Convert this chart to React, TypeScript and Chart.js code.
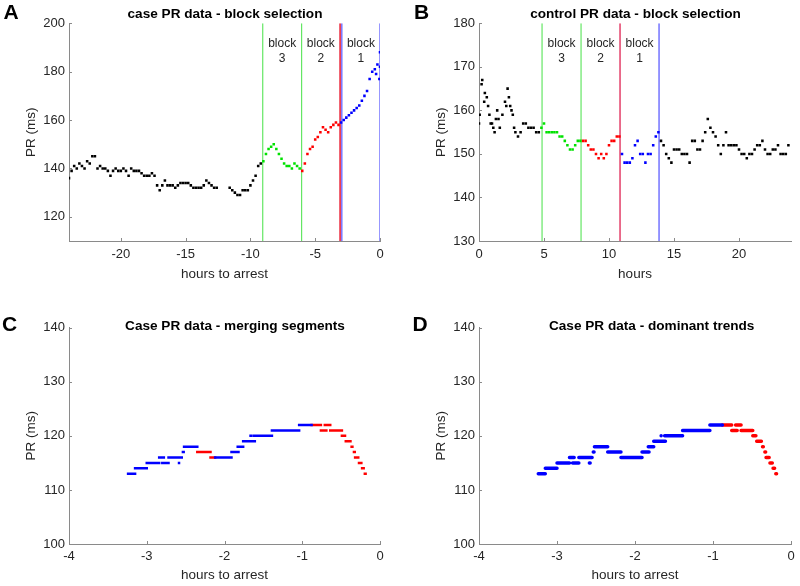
import React, { useEffect, useRef } from 'react';
import { Chart, registerables } from 'chart.js';

Chart.register(...registerables);

const FONT = '"Liberation Sans", Arial, Helvetica, sans-serif';
const SAMPLE_STEP_H = 0.2;

// ---------- Panel A: case PR data ----------
const A_BLACK_START_H = -24;
const A_BLACK_PR: (number | null)[] = [
  136, 139, 141, 140, 142, 141, 140, 143, 142, 145, 145,
  140, 141, 140, 140, 139, 137, 139, 140, 139, 139,
  140, 139, 137, 140, 139, 139, 139, 138, 137, 137,
  137, 138, 137, 133, 131, 133, 135, 133, 133, 133,
  132, 133, 134, 134, 134, 134, 133, 132, 132, 132,
  132, 133, 135, 134, 133, 132, 132, null, null, null,
  null, 132, 131, 130, 129, 129, 131, 131, 131, 133,
  135, 137, 141, 142,
];
const A_GREEN_START_H = -9;
const A_GREEN_PR = [143, 146, 148, 149, 150, 148, 146, 144, 142, 141, 141, 140, 142, 141, 140];
const A_RED_START_H = -6;
const A_RED_PR = [139, 142, 146, 148, 149, 152, 153, 155, 157, 156, 155, 157, 158, 159, 158];
const A_BLUE_START_H = -3;
const A_BLUE_PR = [159, 160, 161, 162, 163, 164, 165, 166, 168, 170, 172, 177, 180, 181, 183, 188];
const A_BLUE_EXTRA_H = [-0.3, -0.05, 0];
const A_BLUE_EXTRA_PR = [179, 177, 182];
const A_BLOCK_NAMES = ['3', '2', '1'];
const A_BLOCK_START = [-9.05, -6.05, -2.95];
const A_BLOCK_END = [-6.05, -3.08, 0];
const A_LINE_H = [-9.05, -6.05, -3.08, -2.95, 0];
const A_LINE_KIND = ['g', 'g', 'r', 'b', 'b'];
const A_X_TICKS = [-20, -15, -10, -5, 0];
const A_Y_TICKS = [120, 140, 160, 180, 200];

// ---------- Panel B: control PR data ----------
const B_BLACK1_START_H = 0;
const B_BLACK1_PR = [157, 166, 162, 163, 159, 157, 155, 160, 156, 159, 162, 165, 161, 159, 155, 154, 155, 157, 157, 156, 156, 156, 155, 155];
const B_BLACK1_EXTRA_H = [0.05, 0.25, 0.45, 0.7, 0.9, 1.1, 1.3, 1.5, 2.1, 2.3, 2.5, 2.7];
const B_BLACK1_EXTRA_PR = [159, 167, 164, 161, 157, 156, 158, 158, 161, 163, 160, 156];
const B_GREEN_START_H = 4.8;
const B_GREEN_PR = [156, 157, 155, 155, 155, 155, 155, 154, 154, 153, 152, 151, 151, 152, 153, 153];
const B_RED_START_H = 8.0;
const B_RED_PR = [153, 153, 152, 151, 151, 150, 149, 150, 149, 150, 152, 153, 153, 154, 154];
const B_BLUE_START_H = 11.0;
const B_BLUE_PR = [150, 148, 148, 148, 149, 152, 153, 150, 150, 148, 150, 150, 152, 154, 155];
const B_BLACK2_START_H = 14.0;
const B_BLACK2_PR = [
  153, 152, 150, 149, 148, 151, 151, 151, 150, 150,
  150, 148, 153, 153, 151, 151, 153, 155, 158, 156,
  155, 154, 152, 150, 152, 155, 152, 152, 152, 152,
  151, 150, 150, 149, 150, 150, 151, 152, 152, 153,
  151, 150, 150, 151, 151, 152, 150, 150, 150, 152,
];
const B_BLOCK_NAMES = ['3', '2', '1'];
const B_BLOCK_START = [4.85, 7.85, 10.85];
const B_BLOCK_END = [7.85, 10.85, 13.85];
const B_LINE_H = [4.85, 7.85, 10.85, 13.85];
const B_LINE_KIND = ['g', 'g', 'p', 'b'];
const B_X_TICKS = [0, 5, 10, 15, 20];
const B_Y_TICKS = [130, 140, 150, 160, 170, 180];

// ---------- Panels C & D: case PR trend segments ----------
const SEG_START_H = [-3.24, -3.15, -3.0, -2.84, -2.80, -2.72, -2.585, -2.535, -2.52, -2.35, -2.18, -2.12, -1.91, -1.83, -1.76, -1.665, -1.62, -1.39, -1.04, -0.88, -0.76, -0.71, -0.64, -0.49, -0.44, -0.365, -0.335, -0.32, -0.27, -0.23, -0.195];
const SEG_END_H = [-3.15, -3.0, -2.84, -2.78, -2.72, -2.55, -2.575, -2.525, -2.35, -2.18, -2.12, -1.91, -1.82, -1.76, -1.61, -1.655, -1.39, -1.04, -0.88, -0.76, -0.69, -0.64, -0.49, -0.45, -0.38, -0.355, -0.325, -0.28, -0.24, -0.21, -0.185];
const SEG_PR = [113, 114, 115, 116, 115, 116, 115, 117, 118, 117, 116, 116, 117, 118, 119, 120, 120, 121, 122, 122, 121, 122, 121, 120, 119, 118, 117, 116, 115, 114, 113];
// 'u' = blue, 'd' = red
const MERGE_CLASS = ['u','u','u','u','u','u','u','u','u','d','d','u','u','u','u','u','u','u','u','d','d','d','d','d','d','d','d','d','d','d','d'];
const TREND_CLASS = ['u','u','u','u','u','u','u','u','u','u','u','u','u','u','u','u','u','u','u','d','d','d','d','d','d','d','d','d','d','d','d'];
const CD_X_TICKS = [-4, -3, -2, -1, 0];
const CD_Y_TICKS = [100, 110, 120, 130, 140];

// ---------- styles ----------
const AXIS_COLOR = '#8a8a8a';
const TEXT_COLOR = '#262626';
const DOT_BLACK = '#000000';
const DOT_GREEN = 'rgb(0,225,0)';
const DOT_RED = 'rgb(255,0,0)';
const DOT_BLUE = 'rgb(0,0,255)';
const LINE_STYLE: Record<string, { color: string; width: number }> = {
  g: { color: 'rgb(100,230,100)', width: 1.2 },
  r: { color: 'rgb(235,40,60)', width: 1.6 },
  p: { color: 'rgb(232,95,130)', width: 1.8 },
  b: { color: 'rgb(125,125,255)', width: 1.6 },
};

function toPoints(startH: number, values: (number | null)[]) {
  return values.map((v, i) => ({ x: Math.round((startH + i * SAMPLE_STEP_H) * 100) / 100, y: v }));
}

function pairPoints(xs: number[], ys: number[]) {
  return xs.map((x, i) => ({ x, y: ys[i] }));
}

function dots(data: any[], color: string) {
  return {
    data,
    backgroundColor: color,
    borderColor: color,
    borderWidth: 0,
    pointStyle: 'rect',
    pointRadius: 1.8,
    pointBorderWidth: 0,
    showLine: false,
    order: 0,
  };
}

function vLines(xs: number[], kinds: string[], yMin: number, yMax: number) {
  return xs.map((x, i) => ({
    data: [{ x, y: yMin }, { x, y: yMax }],
    showLine: true,
    borderColor: LINE_STYLE[kinds[i]].color,
    borderWidth: LINE_STYLE[kinds[i]].width,
    pointRadius: 0,
    order: 1,
  }));
}

function segmentLine(cls: string[], want: string, color: string, width: number, cap: string) {
  const data: any[] = [];
  SEG_PR.forEach((v, i) => {
    if (cls[i] !== want) return;
    data.push({ x: SEG_START_H[i], y: v }, { x: SEG_END_H[i], y: v }, { x: SEG_END_H[i], y: null });
  });
  return {
    data,
    showLine: true,
    spanGaps: false,
    borderColor: color,
    borderWidth: width,
    borderCapStyle: cap,
    pointRadius: 0,
  };
}

interface TextSpec {
  letter: string; letterX: number; letterY: number;
  title: string; titleX: number; titleY: number;
  xTicks: number[]; yTicks: number[];
  blocks?: { names: string[]; start: number[]; end: number[] };
}

function textPlugin(spec: TextSpec) {
  return {
    id: 'panelText',
    afterDraw(chart: any) {
      const ctx = chart.ctx;
      const xs = chart.scales.x;
      const ys = chart.scales.y;
      const area = chart.chartArea;
      ctx.save();
      ctx.strokeStyle = AXIS_COLOR;
      ctx.lineWidth = 1;
      ctx.beginPath();
      spec.xTicks.forEach((t) => {
        const px = Math.round(xs.getPixelForValue(t)) + 0.5;
        ctx.moveTo(px, area.bottom);
        ctx.lineTo(px, area.bottom - 3);
      });
      spec.yTicks.forEach((t) => {
        const py = Math.round(ys.getPixelForValue(t)) + 0.5;
        ctx.moveTo(area.left, py);
        ctx.lineTo(area.left + 3, py);
      });
      ctx.stroke();
      ctx.textAlign = 'center';
      ctx.textBaseline = 'middle';
      ctx.fillStyle = '#000';
      ctx.font = `bold 21px ${FONT}`;
      ctx.fillText(spec.letter, spec.letterX, spec.letterY);
      ctx.font = `bold 13.6px ${FONT}`;
      ctx.fillText(spec.title, spec.titleX, spec.titleY);
      if (spec.blocks) {
        ctx.fillStyle = TEXT_COLOR;
        ctx.font = `12px ${FONT}`;
        spec.blocks.names.forEach((n, i) => {
          const cx = xs.getPixelForValue((spec.blocks!.start[i] + spec.blocks!.end[i]) / 2);
          ctx.fillText('block', cx, area.top + 20);
          ctx.fillText(n, cx, area.top + 35);
        });
      }
      ctx.restore();
    },
  };
}

interface AxisSpec {
  xMin: number; xMax: number; xTicks: number[]; xTitle: string;
  yMin: number; yMax: number; yTicks: number[];
  yWidth: number; xHeight: number; xTickPad: number; xTitlePad: number; yTitlePad: number;
  padRight: number; padTop: number;
}

function makeOptions(a: AxisSpec) {
  const tickFont = { family: FONT, size: 13 };
  const titleFont = { family: FONT, size: 13.5 };
  return {
    responsive: false,
    animation: false,
    devicePixelRatio: 1,
    layout: { padding: { left: 0, right: a.padRight, top: a.padTop, bottom: 0 } },
    plugins: { legend: { display: false }, tooltip: { enabled: false }, title: { display: false } },
    scales: {
      x: {
        type: 'linear',
        min: a.xMin,
        max: a.xMax,
        afterBuildTicks: (s: any) => { s.ticks = a.xTicks.map((v) => ({ value: v })); },
        afterFit: (s: any) => { s.height = a.xHeight; },
        grid: { display: false, drawTicks: false },
        border: { display: true, color: AXIS_COLOR, width: 1 },
        ticks: { color: TEXT_COLOR, font: tickFont, padding: a.xTickPad, maxRotation: 0, autoSkip: false, callback: (v: any) => String(v) },
        title: { display: true, text: a.xTitle, color: TEXT_COLOR, font: titleFont, padding: { top: 0, bottom: a.xTitlePad } },
      },
      y: {
        type: 'linear',
        min: a.yMin,
        max: a.yMax,
        afterBuildTicks: (s: any) => { s.ticks = a.yTicks.map((v) => ({ value: v })); },
        afterFit: (s: any) => { s.width = a.yWidth; },
        grid: { display: false, drawTicks: false },
        border: { display: true, color: AXIS_COLOR, width: 1 },
        ticks: { color: TEXT_COLOR, font: tickFont, padding: 4, autoSkip: false, callback: (v: any) => String(v) },
        title: { display: true, text: 'PR (ms)', color: TEXT_COLOR, font: titleFont, padding: { top: a.yTitlePad, bottom: 0 } },
      },
    },
  };
}

function buildA() {
  const yMin = 110, yMax = 200;
  return {
    type: 'scatter',
    data: {
      datasets: [
        dots(toPoints(A_BLACK_START_H, A_BLACK_PR), DOT_BLACK),
        dots(toPoints(A_GREEN_START_H, A_GREEN_PR), DOT_GREEN),
        dots(toPoints(A_RED_START_H, A_RED_PR), DOT_RED),
        dots(toPoints(A_BLUE_START_H, A_BLUE_PR), DOT_BLUE),
        dots(pairPoints(A_BLUE_EXTRA_H, A_BLUE_EXTRA_PR), DOT_BLUE),
        ...vLines(A_LINE_H, A_LINE_KIND, yMin, yMax),
      ],
    },
    options: makeOptions({
      xMin: -24, xMax: 0, xTicks: A_X_TICKS, xTitle: 'hours to arrest',
      yMin, yMax, yTicks: A_Y_TICKS,
      yWidth: 69, xHeight: 49, xTickPad: 6, xTitlePad: 8, yTitlePad: 23,
      padRight: 20, padTop: 23.3,
    }),
    plugins: [textPlugin({
      letter: 'A', letterX: 11, letterY: 13,
      title: 'case PR data - block selection', titleX: 225, titleY: 14,
      xTicks: A_X_TICKS, yTicks: A_Y_TICKS,
      blocks: { names: A_BLOCK_NAMES, start: A_BLOCK_START, end: A_BLOCK_END },
    })],
  };
}

function buildB() {
  const yMin = 130, yMax = 180;
  return {
    type: 'scatter',
    data: {
      datasets: [
        dots(toPoints(B_BLACK1_START_H, B_BLACK1_PR), DOT_BLACK),
        dots(pairPoints(B_BLACK1_EXTRA_H, B_BLACK1_EXTRA_PR), DOT_BLACK),
        dots(toPoints(B_GREEN_START_H, B_GREEN_PR), DOT_GREEN),
        dots(toPoints(B_RED_START_H, B_RED_PR), DOT_RED),
        dots(toPoints(B_BLUE_START_H, B_BLUE_PR), DOT_BLUE),
        dots(toPoints(B_BLACK2_START_H, B_BLACK2_PR), DOT_BLACK),
        ...vLines(B_LINE_H, B_LINE_KIND, yMin, yMax),
      ],
    },
    options: makeOptions({
      xMin: 0, xMax: 24, xTicks: B_X_TICKS, xTitle: 'hours',
      yMin, yMax, yTicks: B_Y_TICKS,
      yWidth: 79, xHeight: 49, xTickPad: 6, xTitlePad: 8, yTitlePad: 33,
      padRight: 9, padTop: 23.3,
    }),
    plugins: [textPlugin({
      letter: 'B', letterX: 21.5, letterY: 13,
      title: 'control PR data - block selection', titleX: 235.5, titleY: 14,
      xTicks: B_X_TICKS, yTicks: B_Y_TICKS,
      blocks: { names: B_BLOCK_NAMES, start: B_BLOCK_START, end: B_BLOCK_END },
    })],
  };
}

function buildCD(cls: string[], letter: string, title: string, yWidth: number, padRight: number, yTitlePad: number, letterX: number, titleX: number, width: number, cap: string) {
  return {
    type: 'scatter',
    data: {
      datasets: [
        segmentLine(cls, 'u', DOT_BLUE, width, cap),
        segmentLine(cls, 'd', DOT_RED, width, cap),
      ],
    },
    options: makeOptions({
      xMin: -4, xMax: 0, xTicks: CD_X_TICKS, xTitle: 'hours to arrest',
      yMin: 100, yMax: 140, yTicks: CD_Y_TICKS,
      yWidth, xHeight: 42, xTickPad: 5, xTitlePad: 3, yTitlePad,
      padRight, padTop: 37.7,
    }),
    plugins: [textPlugin({
      letter, letterX, letterY: 35,
      title, titleX, titleY: 36,
      xTicks: CD_X_TICKS, yTicks: CD_Y_TICKS,
    })],
  };
}

function Panel({ left, top, width, height, build }: { left: number; top: number; width: number; height: number; build: () => any }) {
  const ref = useRef<HTMLCanvasElement>(null);
  useEffect(() => {
    const chart = new Chart(ref.current as HTMLCanvasElement, build());
    return () => chart.destroy();
  }, []);
  return (
    <canvas
      ref={ref}
      width={width}
      height={height}
      style={{ position: 'absolute', left, top, width, height }}
    />
  );
}

export default function App() {
  return (
    <div style={{ position: 'fixed', left: 0, top: 0, width: 800, height: 586, background: '#ffffff', overflow: 'hidden' }}>
      <Panel left={0} top={0} width={400} height={290} build={buildA} />
      <Panel left={400} top={0} width={400} height={290} build={buildB} />
      <Panel left={0} top={290} width={400} height={296}
        build={() => buildCD(MERGE_CLASS, 'C', 'Case PR data - merging segments', 69, 20, 23, 9.5, 235, 2.5, 'square')} />
      <Panel left={400} top={290} width={400} height={296}
        build={() => buildCD(TREND_CLASS, 'D', 'Case PR data - dominant trends', 79, 9, 33, 20, 251.7, 3.5, 'round')} />
    </div>
  );
}
